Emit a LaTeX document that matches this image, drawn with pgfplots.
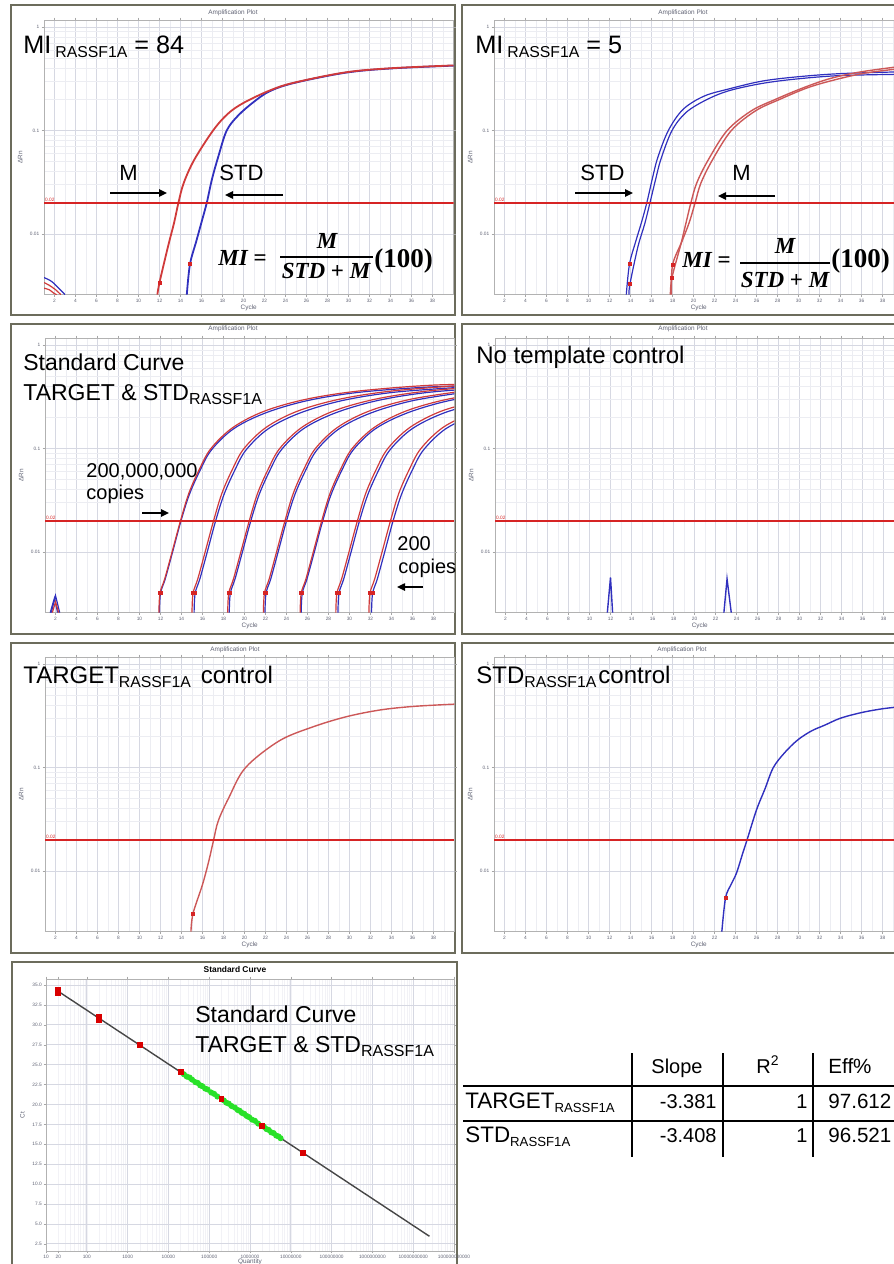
\documentclass[border=0pt]{standalone}
\usepackage{pgfplots}
\pgfplotsset{compat=1.18}
\usepackage[no-math]{fontspec}
\setmainfont{Liberation Sans}
\newfontfamily\frmf{Liberation Serif}
\usetikzlibrary{arrows.meta}

\definecolor{thr}{RGB}{214,36,36}
\definecolor{cred}{RGB}{208,58,58}
\definecolor{cpink}{RGB}{204,88,88}
\definecolor{cblue}{RGB}{48,48,190}
\definecolor{frm}{RGB}{108,108,92}
\definecolor{gmaj}{RGB}{214,216,226}
\definecolor{gmin}{RGB}{236,237,242}
\definecolor{gfaint}{RGB}{242,242,246}
\definecolor{tlab}{RGB}{95,98,115}
\definecolor{cgreen}{RGB}{40,225,40}
\definecolor{cline}{RGB}{70,70,70}

\newcommand\tinyf{\fontsize{2.4}{2.8}\selectfont}
\newcommand\labf{\fontsize{3.2}{3.8}\selectfont}
\newcommand\sub[2][7.9]{\raisebox{-2pt}{\fontsize{#1}{#1}\selectfont #2}}
\newcommand\fbi{\frmf\bfseries\itshape\fontsize{11.5}{13}\selectfont}
\newcommand\fbu{\frmf\bfseries\upshape\fontsize{13.5}{15}\selectfont}

\pgfkeys{/pgf/number format/assume math mode=true}
\pgfplotsset{
  ampaxis/.style={
    scale only axis, width=204.75pt, height=137.3pt, anchor=north west,
    xmin=1, xmax=40, ymin=0.0026, ymax=1.17,
    xtick={2,4,...,38}, minor xtick={1,3,...,39},
    ytick={0.01,0.1,1}, yticklabels={0.01,0.1,1},
    grid=both,
    major grid style={gmaj,line width=0.35pt},
    minor grid style={gmin,line width=0.3pt},
    axis line style={gray!60,line width=0.35pt},
    major tick length=1.2pt, minor tick length=0pt, tick style={gray!70},
    tick align=outside,
    tick label style={font=\tinyf, text=tlab, inner sep=1pt},
    xlabel={Cycle}, ylabel={ΔRn},
    xlabel style={font=\labf, text=tlab, at={(axis description cs:0.5,-0.049)}, anchor=center},
    ylabel style={font=\labf, text=tlab, at={(axis description cs:-0.058,0.5)}, anchor=center},
  },
  redcurve/.style={cred, line width=0.9pt, smooth, tension=0.55},
  bluecurve/.style={cblue, line width=0.9pt, smooth, tension=0.55},
  redthin/.style={cred, line width=0.6pt, smooth, tension=0.55},
  bluethin/.style={cblue, line width=0.6pt, smooth, tension=0.55},
  ctmark/.style={only marks, mark=square*, mark size=0.75pt, color=thr},
  thrline/.style={thr, line width=1.1pt},
}

\begin{document}
\begin{tikzpicture}
% screenshot frames
\begin{scope}[frm, line width=1.1pt]
\draw (5.5pt,-2.5pt) rectangle (227.5pt,-157.5pt);
\draw (231pt,-2.5pt) rectangle (450pt,-157.5pt);
\draw (5.5pt,-162pt) rectangle (227.5pt,-317pt);
\draw (231pt,-162pt) rectangle (450pt,-317pt);
\draw (5.5pt,-321.5pt) rectangle (227.5pt,-476.5pt);
\draw (231pt,-321.5pt) rectangle (450pt,-476.5pt);
\draw (6pt,-481pt) rectangle (228.5pt,-637.5pt);
\end{scope}
% plot titles
\begin{scope}[every node/.style={font=\labf, text=tlab, inner sep=0pt}]
\node at (116.5pt,-6.5pt) {Amplification Plot};
\node at (341.5pt,-6.5pt) {Amplification Plot};
\node at (116.5pt,-164.5pt) {Amplification Plot};
\node at (341.5pt,-164.5pt) {Amplification Plot};
\node at (117.5pt,-325pt) {Amplification Plot};
\node at (341pt,-325pt) {Amplification Plot};
\end{scope}
\node[inner sep=0pt, font=\bfseries\fontsize{4.2}{5}\selectfont] at (117.5pt,-484.5pt) {Standard Curve};

% ---------------- MI = 84 ----------------
\begin{axis}[ymode=log, ampaxis, at={(22pt,-10pt)}]
\addplot[redthin] coordinates {(1,0.0034)(1.5,0.0032)(2.1,0.0029)(2.6,0.0026)};
\addplot[redthin] coordinates {(1,0.0030)(1.5,0.0029)(1.9,0.0027)(2.2,0.0026)};
\addplot[bluethin] coordinates {(1,0.0038)(1.7,0.0035)(2.4,0.0030)(3.0,0.0026)};
\addplot[bluecurve] coordinates {(14.6,0.0026)(14.9,0.0051)(15.5,0.0085)(16.0,0.013)(16.5,0.02)(17.0,0.034)(17.6,0.056)(18.4,0.10)(19.5,0.14)(21,0.19)(22.5,0.24)(24.8,0.288)(29.7,0.362)(34,0.398)(40,0.424)};
\addplot[redcurve] coordinates {(11.8,0.0026)(12.0,0.0034)(12.8,0.0075)(13.4,0.013)(13.8,0.02)(14.3,0.031)(15.3,0.052)(17.1,0.10)(18.5,0.145)(20,0.185)(22.5,0.244)(24.8,0.29)(29.7,0.365)(34,0.40)(40,0.426)};
\addplot[ctmark] coordinates {(12.0,0.0034)(14.9,0.0051)};
\addplot[thrline] coordinates {(1,0.02)(40,0.02)};
\node[anchor=south west, font=\tinyf, text=thr, inner sep=0.4pt] at (axis cs:1,0.02) {0.02};
\end{axis}

% ---------------- MI = 5 ----------------
\begin{axis}[ymode=log, ampaxis, at={(247pt,-10pt)}]
\addplot[bluethin] coordinates {(13.6,0.0026)(13.9,0.0051)(14.5,0.0085)(15.05,0.013)(15.55,0.02)(16.1,0.035)(16.6,0.055)(17.6,0.10)(19.0,0.16)(21,0.215)(23.4,0.253)(26.5,0.30)(29.8,0.33)(34,0.355)(40,0.37)};
\addplot[bluethin] coordinates {(13.85,0.0026)(13.95,0.0033)(14.7,0.0075)(15.35,0.0125)(15.85,0.02)(16.4,0.034)(16.9,0.053)(17.95,0.10)(19.3,0.15)(21.3,0.20)(23.4,0.243)(26.5,0.285)(29.8,0.315)(34,0.34)(40,0.35)};
\addplot[cpink, line width=0.7pt, smooth, tension=0.55] coordinates {(17.8,0.0026)(17.95,0.0038)(18.8,0.008)(19.3,0.013)(19.75,0.02)(20.3,0.031)(21.4,0.052)(23.2,0.10)(25.5,0.155)(27.8,0.20)(30.5,0.26)(33.1,0.32)(36,0.37)(40,0.42)};
\addplot[cpink, line width=0.7pt, smooth, tension=0.55] coordinates {(17.9,0.0026)(18.0,0.0050)(18.9,0.0085)(19.6,0.013)(20.15,0.02)(20.7,0.031)(21.8,0.052)(23.6,0.10)(25.9,0.155)(28.2,0.20)(30.9,0.26)(33.5,0.31)(36.4,0.36)(40,0.40)};
\addplot[ctmark] coordinates {(13.9,0.0051)(13.95,0.0033)(17.95,0.0038)(18.0,0.0050)};
\addplot[thrline] coordinates {(1,0.02)(40,0.02)};
\node[anchor=south west, font=\tinyf, text=thr, inner sep=0.4pt] at (axis cs:1,0.02) {0.02};
\end{axis}

% ---------------- dilution series ----------------
\begin{axis}[ymode=log, ampaxis, at={(22.5pt,-169pt)}]
\addplot[cblue, line width=0.6pt] coordinates {(1.5,0.0026)(1.9,0.0036)(2.2,0.0026)};
\addplot[cblue, line width=0.6pt] coordinates {(1.6,0.0026)(2.0,0.0038)(2.4,0.0026)};
\addplot[cred, line width=0.6pt] coordinates {(1.7,0.0026)(2.0,0.0033)(2.3,0.0026)};
% blue replicates
\addplot[bluethin] coordinates {(11.9,0.0026)(12.0,0.0040)(12.45,0.0055)(13.15,0.0100)(13.95,0.02)(14.75,0.036)(15.75,0.061)(16.85,0.097)(18.95,0.155)(21.95,0.22)(25.95,0.29)(30.95,0.35)(37.95,0.395)(43.95,0.405)};
\addplot[bluethin] coordinates {(15.2,0.0026)(15.3,0.0040)(15.75,0.0055)(16.45,0.0100)(17.25,0.02)(18.05,0.036)(19.05,0.061)(20.15,0.097)(22.25,0.155)(25.25,0.22)(29.25,0.29)(34.25,0.35)(41.25,0.395)};
\addplot[bluethin] coordinates {(18.55,0.0026)(18.65,0.0040)(19.1,0.0055)(19.8,0.0100)(20.6,0.02)(21.4,0.036)(22.4,0.061)(23.5,0.097)(25.6,0.155)(28.6,0.22)(32.6,0.29)(37.6,0.35)(44.6,0.395)};
\addplot[bluethin] coordinates {(21.95,0.0026)(22.05,0.0040)(22.5,0.0055)(23.2,0.0100)(24.0,0.02)(24.8,0.036)(25.8,0.061)(26.9,0.097)(29.0,0.155)(32.0,0.22)(36.0,0.29)(41.0,0.35)};
\addplot[bluethin] coordinates {(25.4,0.0026)(25.5,0.0040)(25.95,0.0055)(26.65,0.0100)(27.45,0.02)(28.25,0.036)(29.25,0.061)(30.35,0.097)(32.45,0.155)(35.45,0.22)(39.45,0.29)(44.45,0.35)};
\addplot[bluethin] coordinates {(28.9,0.0026)(29.0,0.0040)(29.45,0.0055)(30.15,0.0100)(30.95,0.02)(31.75,0.036)(32.75,0.061)(33.85,0.097)(35.95,0.155)(38.95,0.22)(42.95,0.29)};
\addplot[bluethin] coordinates {(32.1,0.0026)(32.2,0.0040)(32.65,0.0055)(33.35,0.0100)(34.15,0.02)(34.95,0.036)(35.95,0.061)(37.05,0.097)(39.15,0.155)(42.15,0.22)};
% red replicates
\addplot[redthin] coordinates {(11.85,0.0026)(11.95,0.0040)(12.4,0.0055)(13.1,0.0100)(13.9,0.02)(14.7,0.037)(15.7,0.063)(16.8,0.10)(18.9,0.16)(21.9,0.23)(25.9,0.30)(30.9,0.36)(37.9,0.41)(43.9,0.42)};
\addplot[redthin] coordinates {(15.0,0.0026)(15.1,0.0040)(15.55,0.0055)(16.25,0.0100)(17.05,0.02)(17.85,0.037)(18.85,0.063)(19.95,0.10)(22.05,0.16)(25.05,0.23)(29.05,0.30)(34.05,0.36)(41.05,0.41)};
\addplot[redthin] coordinates {(18.4,0.0026)(18.5,0.0040)(18.95,0.0055)(19.65,0.0100)(20.45,0.02)(21.25,0.037)(22.25,0.063)(23.35,0.10)(25.45,0.16)(28.45,0.23)(32.45,0.30)(37.45,0.36)(44.45,0.41)};
\addplot[redthin] coordinates {(21.8,0.0026)(21.9,0.0040)(22.35,0.0055)(23.05,0.0100)(23.85,0.02)(24.65,0.037)(25.65,0.063)(26.75,0.10)(28.85,0.16)(31.85,0.23)(35.85,0.30)(40.85,0.36)};
\addplot[redthin] coordinates {(25.3,0.0026)(25.4,0.0040)(25.85,0.0055)(26.55,0.0100)(27.35,0.02)(28.15,0.037)(29.15,0.063)(30.25,0.10)(32.35,0.16)(35.35,0.23)(39.35,0.30)(44.35,0.36)};
\addplot[redthin] coordinates {(28.7,0.0026)(28.8,0.0040)(29.25,0.0055)(29.95,0.0100)(30.75,0.02)(31.55,0.037)(32.55,0.063)(33.65,0.10)(35.75,0.16)(38.75,0.23)(42.75,0.30)};
\addplot[redthin] coordinates {(31.85,0.0026)(31.95,0.0040)(32.4,0.0055)(33.1,0.0100)(33.9,0.02)(34.7,0.037)(35.7,0.063)(36.8,0.10)(38.9,0.16)(41.9,0.23)};
\addplot[ctmark] coordinates {(11.95,0.0040)(12.0,0.0040)(15.1,0.0040)(15.3,0.0040)(18.5,0.0040)(18.65,0.0040)(21.9,0.0040)(22.05,0.0040)(25.4,0.0040)(25.5,0.0040)(28.8,0.0040)(29.0,0.0040)(31.95,0.0040)(32.2,0.0040)};
\addplot[thrline] coordinates {(1,0.02)(40,0.02)};
\node[anchor=south west, font=\tinyf, text=thr, inner sep=0.4pt] at (axis cs:1,0.02) {0.02};
\end{axis}

% ---------------- no template control ----------------
\begin{axis}[ymode=log, ampaxis, at={(247.5pt,-169pt)}]
\addplot[cblue, line width=0.7pt] coordinates {(11.7,0.0026)(12.0,0.0057)(12.2,0.0026)};
\addplot[cblue, line width=0.7pt] coordinates {(22.8,0.0026)(23.1,0.0055)(23.5,0.0026)};
\addplot[thrline] coordinates {(1,0.02)(40,0.02)};
\node[anchor=south west, font=\tinyf, text=thr, inner sep=0.4pt] at (axis cs:1,0.02) {0.02};
\end{axis}

% ---------------- TARGET control ----------------
\begin{axis}[ymode=log, ampaxis, at={(22.5pt,-328.5pt)}]
\addplot[cpink, line width=0.7pt, smooth, tension=0.55] coordinates {(14.9,0.0026)(15.1,0.0039)(16.0,0.0074)(16.6,0.0125)(17.06,0.02)(17.5,0.0305)(18.5,0.051)(20.1,0.10)(23.3,0.181)(26.5,0.247)(29.7,0.31)(32.9,0.36)(36.1,0.39)(40,0.41)};
\addplot[ctmark] coordinates {(15.1,0.0039)};
\addplot[thrline] coordinates {(1,0.02)(40,0.02)};
\node[anchor=south west, font=\tinyf, text=thr, inner sep=0.4pt] at (axis cs:1,0.02) {0.02};
\end{axis}

% ---------------- STD control ----------------
\begin{axis}[ymode=log, ampaxis, at={(247pt,-328.5pt)}]
\addplot[cblue, line width=0.7pt, smooth, tension=0.55] coordinates {(22.7,0.0026)(23.05,0.0055)(23.6,0.0075)(24.1,0.0096)(24.7,0.015)(25.1,0.02)(26.0,0.039)(26.8,0.062)(27.6,0.10)(28.7,0.14)(29.9,0.184)(31.2,0.225)(32.5,0.257)(34,0.30)(36,0.34)(38,0.37)(40,0.39)};
\addplot[ctmark] coordinates {(23.05,0.0055)};
\addplot[thrline] coordinates {(1,0.02)(40,0.02)};
\node[anchor=south west, font=\tinyf, text=thr, inner sep=0.4pt] at (axis cs:1,0.02) {0.02};
\end{axis}

% ---------------- standard curve ----------------
\begin{axis}[xmode=log, scale only axis, width=204pt, height=136pt, anchor=north west, at={(23pt,-489.5pt)},
  xmin=10, xmax=1e11, ymin=1.6, ymax=35.75,
  ytick={2.5,5,...,35},
  xtick={1e1,1e2,1e3,1e4,1e5,1e6,1e7,1e8,1e9,1e10,1e11},
  xticklabels={10,100,1000,10000,100000,1000000,10000000,100000000,1000000000,10000000000,100000000000},
  extra x ticks={20}, extra x tick labels={20}, extra x tick style={grid=none},
  yticklabel style={/pgf/number format/fixed, /pgf/number format/fixed zerofill, /pgf/number format/precision=1},
  grid=both,
  major grid style={gmaj,line width=0.35pt},
  minor grid style={gfaint,line width=0.25pt},
  axis line style={gray!60,line width=0.35pt},
  major tick length=1.2pt, minor tick length=0pt, tick style={gray!70}, tick align=outside,
  tick label style={font=\tinyf, text=tlab, inner sep=0.7pt},
  xlabel={Quantity}, ylabel={Ct},
  xlabel style={font=\labf, text=tlab, at={(axis description cs:0.5,-0.039)}, anchor=center},
  ylabel style={font=\labf, text=tlab, at={(axis description cs:-0.058,0.5)}, anchor=center},
]
\addplot[cline, line width=0.7pt] coordinates {(20,34.2)(2.5e10,3.45)};
\addplot[only marks, mark=*, mark size=1.3pt, color=cgreen] coordinates {
 (2.40e4,23.79)(2.82e4,23.50)(3.31e4,23.38)(3.80e4,23.12)(4.57e4,22.80)(5.25e4,22.70)(6.03e4,22.40)
 (6.76e4,22.30)(7.94e4,22.00)(9.12e4,21.88)(1.12e5,21.50)(1.32e5,21.33)(1.58e5,21.00)(2.29e5,20.50)
 (2.63e5,20.22)(3.02e5,20.10)(3.55e5,19.80)(4.27e5,19.60)(5.01e5,19.30)(5.62e5,19.20)(6.31e5,18.95)
 (7.24e5,18.82)(8.32e5,18.55)(9.55e5,18.40)(1.12e6,18.10)(1.32e6,17.95)(1.58e6,17.60)(2.19e6,17.20)
 (2.51e6,16.92)(2.88e6,16.80)(3.31e6,16.50)(3.80e6,16.40)(4.37e6,16.10)(5.01e6,15.98)(5.62e6,15.76)};
\addplot[only marks, mark=square*, mark size=1.2pt, color=red!85!black] coordinates {
 (20,34.0)(20,34.45)(200,30.95)(200,30.65)(2000,27.45)(2e4,24.05)(2e5,20.7)(2e6,17.3)(2e7,13.95)};
\end{axis}

% ---------------- annotations ----------------
\node[anchor=base west, inner sep=0pt] at (11.5pt,-26.5pt) {\fontsize{12.6}{14}\selectfont MI\hspace{2pt}\sub{RASSF1A} = 84};
\node[anchor=base west, inner sep=0pt] at (237.5pt,-26.5pt) {\fontsize{12.6}{14}\selectfont MI\hspace{2pt}\sub{RASSF1A} = 5};

\node[anchor=base west, inner sep=0pt] at (59.5pt,-90pt) {\fontsize{11}{13}\selectfont M};
\node[anchor=base west, inner sep=0pt] at (109.5pt,-90pt) {\fontsize{11}{13}\selectfont STD};
\node[anchor=base west, inner sep=0pt] at (290pt,-90pt) {\fontsize{11}{13}\selectfont STD};
\node[anchor=base west, inner sep=0pt] at (366pt,-90pt) {\fontsize{11}{13}\selectfont M};
\draw[line width=0.9pt, -{Triangle[length=4pt,width=3.6pt]}] (55pt,-96.5pt) -- (83.5pt,-96.5pt);
\draw[line width=0.9pt, -{Triangle[length=4pt,width=3.6pt]}] (141.5pt,-97.5pt) -- (112.5pt,-97.5pt);
\draw[line width=0.9pt, -{Triangle[length=4pt,width=3.6pt]}] (287.5pt,-96.5pt) -- (316.5pt,-96.5pt);
\draw[line width=0.9pt, -{Triangle[length=4pt,width=3.6pt]}] (387.5pt,-98pt) -- (359pt,-98pt);
\draw[line width=0.9pt, -{Triangle[length=4pt,width=3.6pt]}] (71pt,-256.5pt) -- (84.5pt,-256.5pt);
\draw[line width=0.9pt, -{Triangle[length=4pt,width=3.6pt]}] (211.5pt,-293.5pt) -- (198.5pt,-293.5pt);

% methylation index formula
\node[anchor=base west, inner sep=0pt] at (109pt,-132.5pt) {\fbi MI\ \upshape=};
\node[anchor=base, inner sep=0pt] at (163.5pt,-124pt) {\fbi M};
\draw[line width=0.6pt] (140pt,-128.5pt) -- (186.5pt,-128.5pt);
\node[anchor=base, inner sep=0pt] at (163pt,-139pt) {\fbi STD\ \upshape+\ \itshape M};
\node[anchor=base west, inner sep=0pt] at (187pt,-133.5pt) {\fbu (100)};

\node[anchor=base west, inner sep=0pt] at (341pt,-133.5pt) {\fbi MI\ \upshape=};
\node[anchor=base, inner sep=0pt] at (392.5pt,-126.5pt) {\fbi M};
\draw[line width=0.6pt] (370pt,-131.5pt) -- (415pt,-131.5pt);
\node[anchor=base, inner sep=0pt] at (392.5pt,-143.5pt) {\fbi STD\ \upshape+\ \itshape M};
\node[anchor=base west, inner sep=0pt] at (415.5pt,-133.5pt) {\fbu (100)};

\node[anchor=base west, inner sep=0pt] at (11.5pt,-185pt) {\fontsize{11.5}{13}\selectfont Standard Curve};
\node[anchor=base west, inner sep=0pt] at (11.5pt,-200pt) {\fontsize{11.5}{13}\selectfont TARGET \& STD\sub[8]{RASSF1A}};
\node[anchor=base west, inner sep=0pt] at (43pt,-238.5pt) {\fontsize{10}{12}\selectfont 200,000,000};
\node[anchor=base west, inner sep=0pt] at (43pt,-249.5pt) {\fontsize{10}{12}\selectfont copies};
\node[anchor=base west, inner sep=0pt] at (198.5pt,-275pt) {\fontsize{10}{12}\selectfont 200};
\node[anchor=base west, inner sep=0pt] at (199pt,-286.5pt) {\fontsize{10}{12}\selectfont copies};

\node[anchor=base west, inner sep=0pt] at (238pt,-181.5pt) {\fontsize{12}{14}\selectfont No template control};
\node[anchor=base west, inner sep=0pt] at (11.5pt,-341.5pt) {\fontsize{12}{14}\selectfont TARGET\sub{RASSF1A}\hspace{5pt}control};
\node[anchor=base west, inner sep=0pt] at (238pt,-341.5pt) {\fontsize{12}{14}\selectfont STD\sub{RASSF1A}\hspace{1pt}control};

\node[anchor=base west, inner sep=0pt] at (97.5pt,-511pt) {\fontsize{11.5}{13}\selectfont Standard Curve};
\node[anchor=base west, inner sep=0pt] at (97.5pt,-526pt) {\fontsize{11.5}{13}\selectfont TARGET \& STD\sub[8]{RASSF1A}};

% ---------------- slope table ----------------
\draw[line width=0.75pt] (316pt,-526.5pt) -- (316pt,-578.5pt);
\draw[line width=0.75pt] (361.5pt,-526.5pt) -- (361.5pt,-578.5pt);
\draw[line width=0.75pt] (406.5pt,-526.5pt) -- (406.5pt,-578.5pt);
\draw[line width=1.2pt] (231.5pt,-543pt) -- (447pt,-543pt);
\draw[line width=0.75pt] (231.5pt,-560.5pt) -- (447pt,-560.5pt);
\begin{scope}[every node/.style={inner sep=0pt, font=\fontsize{10}{12}\selectfont}]
\node[anchor=base] at (338.5pt,-536.5pt) {Slope};
\node[anchor=base] at (384pt,-536.5pt) {R\textsuperscript{2}};
\node[anchor=base west] at (414pt,-536.5pt) {\fontsize{10.3}{12}\selectfont Eff\%};
\node[anchor=base west] at (232.5pt,-554pt) {\fontsize{11.2}{12}\selectfont TARGET\sub[6.6]{RASSF1A}};
\node[anchor=base east] at (358.5pt,-554pt) {-3.381};
\node[anchor=base east] at (404pt,-554pt) {1};
\node[anchor=base west] at (414pt,-554pt) {\fontsize{10.3}{12}\selectfont 97.612};
\node[anchor=base west] at (232.5pt,-571pt) {\fontsize{11.2}{12}\selectfont STD\sub[6.6]{RASSF1A}};
\node[anchor=base east] at (358.5pt,-571pt) {-3.408};
\node[anchor=base east] at (404pt,-571pt) {1};
\node[anchor=base west] at (414pt,-571pt) {\fontsize{10.3}{12}\selectfont 96.521};
\end{scope}

\pgfresetboundingbox
\useasboundingbox (0pt,0pt) rectangle (447pt,-632pt);
\end{tikzpicture}
\end{document}
